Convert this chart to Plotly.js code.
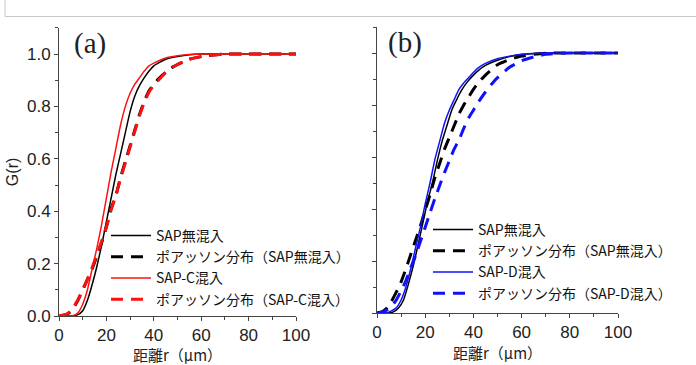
<!DOCTYPE html>
<html><head><meta charset="utf-8">
<script src="https://cdn.plot.ly/plotly-3.0.1.min.js"></script>
<style>html,body{margin:0;padding:0;background:#fff;}#chart{width:696px;height:365px;}</style>
</head><body><div id="chart"></div>
<script>
// ---- Panel (a) data ----
const rA_black = [0,5,8,10,12,14,16,18,20,22,24,26,28,30,32,34,36,38,40,45,50,55,60,70,80,90,100];
const gA_black = [0,0,0.005,0.02,0.06,0.12,0.19,0.27,0.36,0.45,0.54,0.62,0.70,0.78,0.84,0.88,0.91,0.935,0.955,0.98,0.99,0.997,1,1,1,1,1];
const rA_blackP = [0,2,4,6,8,10,12,14,16,18,20,22,24,26,28,30,32,34,36,38,40,42,45,48,50,55,60,65,70,80,90,100];
const gA_blackP = [0,0.003,0.01,0.03,0.06,0.10,0.14,0.18,0.23,0.28,0.34,0.41,0.46,0.53,0.59,0.65,0.71,0.77,0.82,0.86,0.885,0.905,0.93,0.95,0.96,0.98,0.99,0.996,1,1,1,1];
const rA_red = [0,5,7,8,10,12,14,16,18,20,22,24,26,28,30,32,34,36,38,40,45,50,55,60,70,80,90,100];
const gA_red = [0,0,0.005,0.012,0.045,0.10,0.18,0.26,0.35,0.45,0.55,0.64,0.73,0.80,0.85,0.885,0.91,0.935,0.955,0.965,0.985,0.993,0.998,1,1,1,1,1];
const rA_redP = [0,2,4,6,8,10,12,14,16,18,20,22,24,26,28,30,32,34,36,38,40,42,45,48,50,55,60,65,70,80,90,100];
const gA_redP = [0,0.004,0.012,0.032,0.062,0.10,0.14,0.185,0.235,0.285,0.34,0.405,0.46,0.525,0.585,0.645,0.705,0.765,0.815,0.855,0.88,0.9,0.93,0.95,0.96,0.98,0.99,0.996,1,1,1,1];

// ---- Panel (b) data ----
const rB_black = [0,5,7,9,11,13,15,17,19,21,23,25,27,29,31,33,35,37,40,44,50,55,60,70,80,90,100];
const gB_black = [0,0,0.005,0.02,0.05,0.11,0.18,0.26,0.345,0.43,0.50,0.585,0.66,0.72,0.78,0.82,0.855,0.883,0.915,0.947,0.972,0.986,0.994,1,1,1,1];
const rB_blackP = [0,2,4,6,8,10,12,14,16,18,20,22,24,26,28,30,32,34,36,38,40,42,45,48,50,55,60,65,70,80,90,100];
const gB_blackP = [0,0.004,0.018,0.045,0.08,0.12,0.17,0.225,0.28,0.335,0.395,0.455,0.52,0.575,0.63,0.675,0.72,0.765,0.80,0.83,0.86,0.885,0.915,0.94,0.955,0.975,0.988,0.995,0.999,1,1,1];
const rB_blue = [0,4,6,8,10,12,14,16,18,20,22,24,26,28,30,32,34,36,38,40,42,45,50,55,60,70,80,90,100];
const gB_blue = [0,0,0.008,0.02,0.05,0.10,0.17,0.25,0.33,0.42,0.50,0.59,0.66,0.73,0.78,0.82,0.86,0.885,0.905,0.925,0.943,0.96,0.978,0.988,0.995,1,1,1,1];
const rB_blueP = [0,2,4,6,8,10,12,14,16,18,20,22,24,26,28,30,32,34,36,38,40,42,45,48,50,55,60,65,70,80,90,100];
const gB_blueP = [0,0.003,0.011,0.025,0.05,0.085,0.125,0.175,0.22,0.275,0.33,0.385,0.44,0.49,0.54,0.585,0.63,0.665,0.71,0.75,0.78,0.81,0.85,0.885,0.905,0.945,0.97,0.985,0.995,1,1,1];

// ---- labels ----
const namesA = ['SAP無混入','ポアッソン分布（SAP無混入）','SAP-C混入','ポアッソン分布（SAP-C混入）'];
const namesB = ['SAP無混入','ポアッソン分布（SAP無混入）','SAP-D混入','ポアッソン分布（SAP-D混入）'];
const xTickVals = [0,20,40,60,80,100];
const yTickVals = [0,0.2,0.4,0.6,0.8,1.0];
const yTickText = ['0.0','0.2','0.4','0.6','0.8','1.0'];
const xTitle = '距離r（μm）';
const yTitle = 'G(r)';
const panelLabels = ['(a)','(b)'];

const RED = '#ff1010', BLUE = '#1010ff', BLACK = '#000000';
const DASH = '12px,8px';
function tr(x,y,name,color,dashed,xa,ya,leg){
  return {x:x,y:y,name:name,type:'scatter',mode:'lines',xaxis:xa,yaxis:ya,legend:leg,
    line:{color:color,width:dashed?3:1.5,dash:dashed?DASH:'solid',shape:'spline',smoothing:0.5}};
}
const data = [
  tr(rA_black,gA_black,namesA[0],BLACK,false,'x','y','legend'),
  tr(rA_blackP,gA_blackP,namesA[1],BLACK,true,'x','y','legend'),
  tr(rA_red,gA_red,namesA[2],RED,false,'x','y','legend'),
  tr(rA_redP,gA_redP,namesA[3],RED,true,'x','y','legend'),
  tr(rB_black,gB_black,namesB[0],BLACK,false,'x2','y2','legend2'),
  tr(rB_blackP,gB_blackP,namesB[1],BLACK,true,'x2','y2','legend2'),
  tr(rB_blue,gB_blue,namesB[2],BLUE,false,'x2','y2','legend2'),
  tr(rB_blueP,gB_blueP,namesB[3],BLUE,true,'x2','y2','legend2')
];

const W=696,H=365;
const NARROW = 'Liberation Sans Narrow, Arial Narrow, Liberation Sans, sans-serif';
const tickFont = {family:NARROW,size:17,color:'#222'};
const titleFont = {family:'Noto Sans CJK JP, sans-serif',size:15,color:'#222'};
const legFont = {family:'Noto Sans CJK JP, sans-serif',size:14,color:'#111'};
function xax(dom){
  return {domain:dom,range:[0,100],showgrid:false,zeroline:false,showline:true,linecolor:'#444',linewidth:1,
    ticks:'outside',ticklen:4,tickcolor:'#444',tickvals:xTickVals,tickfont:tickFont,
    minor:{ticks:'outside',ticklen:3,tickcolor:'#444',dtick:10},
    title:{text:xTitle,font:titleFont,standoff:2},fixedrange:true};
}
function yax(dom,labels,anchor){
  return {domain:dom,range:[0,1.1],anchor:anchor,showgrid:false,zeroline:false,showline:true,linecolor:'#444',linewidth:1,
    ticks:'outside',ticklen:4,tickcolor:'#444',tickvals:yTickVals,ticktext:yTickText,showticklabels:labels,tickfont:tickFont,
    minor:{ticks:'outside',ticklen:3,tickcolor:'#444',dtick:0.1},fixedrange:true};
}
const layout = {
  width:W,height:H,margin:{l:0,r:0,t:0,b:0},paper_bgcolor:'#fff',plot_bgcolor:'rgba(0,0,0,0)',
  xaxis:xax([59/W,296/W]),
  yaxis:Object.assign(yax([(H-316)/H,(H-27.8)/H],true,'x'),{title:{text:yTitle,font:{family:NARROW,size:16,color:'#222'},standoff:4}}),
  xaxis2:Object.assign(xax([377/W,618/W]),{anchor:'y2'}),
  yaxis2:yax([(H-313)/H,(H-27)/H],false,'x2'),
  showlegend:true,
  legend:{x:106/W,y:(H-220)/H,xanchor:'left',yanchor:'top',bgcolor:'rgba(0,0,0,0)',font:legFont,tracegroupgap:0,itemwidth:40},
  legend2:{x:428/W,y:(H-214)/H,xanchor:'left',yanchor:'top',bgcolor:'rgba(0,0,0,0)',font:legFont,tracegroupgap:0,itemwidth:40},
  annotations:[
    {text:panelLabels[0],xref:'paper',yref:'paper',x:90/W,y:(H-44)/H,xanchor:'center',yanchor:'middle',showarrow:false,
     font:{family:'Liberation Serif, Times New Roman, serif',size:29,color:'#222'}},
    {text:panelLabels[1],xref:'paper',yref:'paper',x:405/W,y:(H-43)/H,xanchor:'center',yanchor:'middle',showarrow:false,
     font:{family:'Liberation Serif, Times New Roman, serif',size:29,color:'#222'}}
  ],
  shapes:[
    {type:'line',xref:'paper',yref:'paper',x0:5/W,x1:1,y0:(H-16.5)/H,y1:(H-16.5)/H,line:{color:'#c8c8c8',width:1}},
    {type:'line',xref:'paper',yref:'paper',x0:5/W,x1:5/W,y0:1,y1:(H-16.5)/H,line:{color:'#c8c8c8',width:1}}
  ]
};
Plotly.newPlot('chart',data,layout,{staticPlot:true,displayModeBar:false});
</script></body></html>
